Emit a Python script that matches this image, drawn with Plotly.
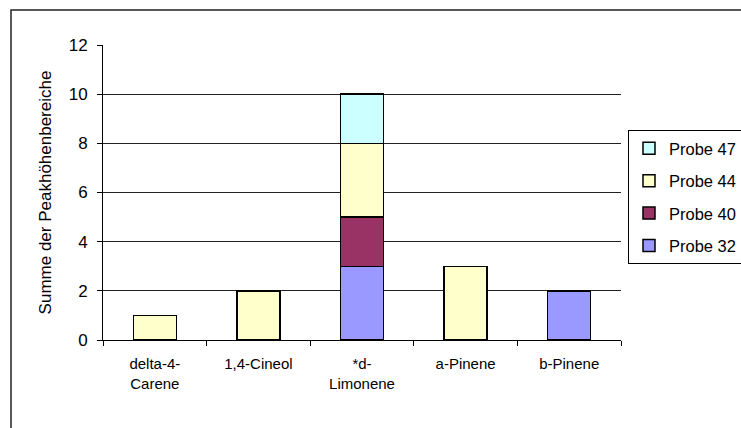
import plotly.graph_objects as go

categories = ["delta-4-<br>Carene", "1,4-Cineol", "*d-<br>Limonene", "a-Pinene", "b-Pinene"]
probe32 = [None, None, 3, None, 2]
probe40 = [None, None, 2, None, None]
probe44 = [1, 2, 3, 3, None]
probe47 = [None, None, 2, None, None]
y_ticks = [0, 2, 4, 6, 8, 10, 12]

series = [
    ("Probe 32", probe32, "#9999FF"),
    ("Probe 40", probe40, "#993366"),
    ("Probe 44", probe44, "#FFFFCC"),
    ("Probe 47", probe47, "#CCFFFF"),
]

FONT = "Liberation Sans, Arial, sans-serif"

fig = go.Figure()
n = len(series)
for i, (name, vals, color) in enumerate(series):
    fig.add_trace(go.Bar(
        x=categories, y=vals, name=name, legendgroup=name,
        legendrank=n - i,
        marker=dict(color=color, line=dict(color="black", width=1.5)),
    ))

fig.update_layout(
    width=741, height=428,
    margin=dict(l=103, r=120, t=45, b=88, autoexpand=False),
    barmode="stack", bargap=0.585,
    plot_bgcolor="white", paper_bgcolor="white",
    font=dict(family=FONT, size=15, color="black"),
    showlegend=True,
    legend=dict(
        x=1.0135, y=0.712, xanchor="left", yanchor="top",
        traceorder="grouped", tracegroupgap=8,
        bordercolor="black", borderwidth=1,
        font=dict(family=FONT, size=16.5, color="black"),
        bgcolor="white",
    ),
    xaxis=dict(
        showline=True, linecolor="black", linewidth=1,
        ticks="outside", ticklen=5, tickcolor="black", tickson="boundaries",
        ticklabelstandoff=10,
        tickfont=dict(family=FONT, size=15),
        showgrid=False,
    ),
    yaxis=dict(
        range=[0, 12], tickvals=y_ticks,
        showline=True, linecolor="black", linewidth=1,
        ticks="outside", ticklen=5, tickcolor="black",
        ticklabelstandoff=6,
        showgrid=True, gridcolor="#222222", gridwidth=1,
        tickfont=dict(family=FONT, size=17),
        title=dict(text="Summe der Peakhöhenbereiche", font=dict(family=FONT, size=17), standoff=12),
        zeroline=False,
    ),
    shapes=[dict(
        type="rect", xref="paper", yref="paper",
        x0=-0.1776, x1=1.6, y0=-0.6, y1=1.1186,
        line=dict(color="#222222", width=1.5), layer="below",
    )],
)

fig.write_html(
    "out.html",
    config={"displayModeBar": False},
    post_script="document.body.style.margin='0';document.body.style.overflow='hidden';",
)
